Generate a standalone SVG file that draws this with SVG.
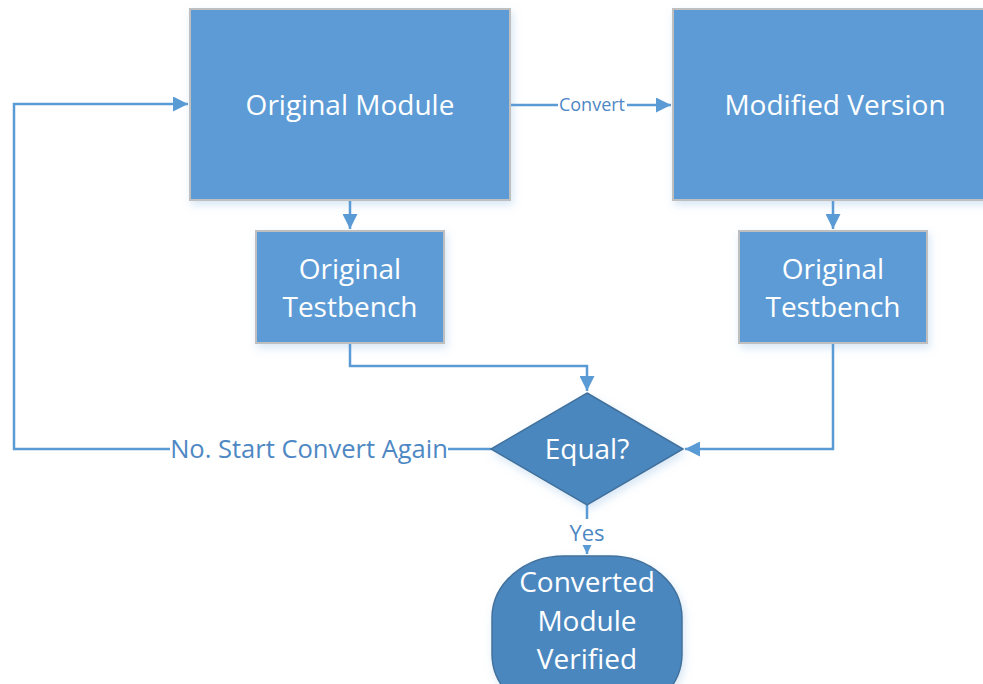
<svg xmlns="http://www.w3.org/2000/svg" width="983" height="684" viewBox="0 0 983 684">
<style>
.box{fill:#5B9BD5;stroke:#BFBFBF;stroke-width:2}
.dk{fill:#4C87BF;stroke:#41719C;stroke-width:1.5}
.t{font-family:"Open Sans","Noto Sans",sans-serif;fill:#FFFFFF;text-anchor:middle;font-size:28px}
.c{fill:none;stroke:#5B9BD5;stroke-width:2.5}
.lb{font-family:"Open Sans","Noto Sans",sans-serif;fill:#4E88C4;text-anchor:middle}
</style>
<defs>
<marker id="ah" viewBox="0 0 10 10" refX="10" refY="5" markerWidth="6" markerHeight="6" markerUnits="strokeWidth" orient="auto">
<path d="M0,0 L10,5 L0,10 Z" fill="#5B9BD5"/>
</marker>
<filter id="sh" x="-10%" y="-10%" width="130%" height="130%">
<feDropShadow dx="2" dy="4" stdDeviation="4" flood-color="#5B9BD5" flood-opacity="0.25"/>
</filter>
</defs>
<g id="connectors">
<path class="c" d="M510,105 H671" marker-end="url(#ah)"/>
<rect x="558" y="94" width="69" height="22" fill="#FFFFFF"/>
<text class="lb" x="592" y="111" font-size="18">Convert</text>
<path class="c" d="M350,200 V229" marker-end="url(#ah)"/>
<path class="c" d="M833,200 V229" marker-end="url(#ah)"/>
<path class="c" d="M350,343 V366 H587 V391" marker-end="url(#ah)"/>
<path class="c" d="M833,343 V449 H685" marker-end="url(#ah)"/>
<path class="c" d="M491,449 H14 V104 H188" marker-end="url(#ah)"/>
<rect x="170" y="435" width="278" height="28" fill="#FFFFFF"/>
<text class="lb" x="309" y="458" font-size="25.5">No. Start Convert Again</text>
<path class="c" d="M587,505 V554" marker-end="url(#ah)"/>
<rect x="569" y="519" width="38" height="26" fill="#FFFFFF"/>
<text class="lb" x="587" y="541" font-size="22">Yes</text>
</g>
<g id="original-module">
<rect class="box" x="190" y="9" width="320" height="191" filter="url(#sh)"/>
<text class="t" x="350" y="115">Original Module</text>
</g>
<g id="modified-version">
<rect class="box" x="673" y="9" width="324" height="191" filter="url(#sh)"/>
<text class="t" x="835" y="115">Modified Version</text>
</g>
<g id="original-testbench-left">
<rect class="box" x="256" y="231" width="188" height="112" filter="url(#sh)"/>
<text class="t" x="350" y="279">Original</text>
<text class="t" x="350" y="317">Testbench</text>
</g>
<g id="original-testbench-right">
<rect class="box" x="739" y="231" width="188" height="112" filter="url(#sh)"/>
<text class="t" x="833" y="279">Original</text>
<text class="t" x="833" y="317">Testbench</text>
</g>
<g id="equal">
<path class="dk" d="M587,393 L683,449 L587,505 L491,449 Z" filter="url(#sh)"/>
<text class="t" x="587" y="459">Equal?</text>
</g>
<g id="converted">
<rect class="dk" x="492" y="556" width="190" height="160" rx="72" ry="62" filter="url(#sh)"/>
<text class="t" x="587" y="592">Converted</text>
<text class="t" x="587" y="631">Module</text>
<text class="t" x="587" y="669">Verified</text>
</g>
</svg>
